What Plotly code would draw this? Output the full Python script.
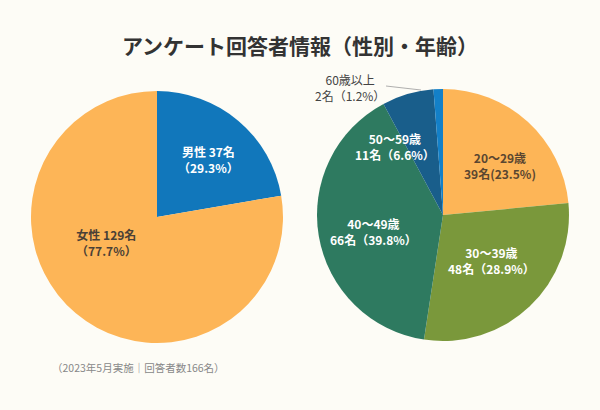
import plotly.graph_objects as go

# ---- data ----
gender_labels = ["男性", "女性"]
gender_counts = [37, 129]
gender_pct = ["29.3%", "77.7%"]

age_labels = ["20〜29歳", "30〜39歳", "40〜49歳", "50〜59歳", "60歳以上"]
age_counts = [39, 48, 66, 11, 2]
age_pct = ["23.5%", "28.9%", "39.8%", "6.6%", "1.2%"]

title_text = "アンケート回答者情報（性別・年齢）"
note_text = "（2023年5月実施｜回答者数166名）"

# ---- styles ----
W, H = 600, 410
FONT = "Noto Sans CJK JP"
BG = "#FDFCF6"
DARK = "#4A4036"
gender_colors = ["#1177BB", "#FDB557"]
gender_text_colors = ["white", DARK]
age_colors = ["#FDB557", "#7A983B", "#2E7A60", "#195E8B", "#1380C8"]
age_text_colors = ["#5A4630", "white", "white", "white", "#444444"]

# label block centres (pixels)
gender_label_pos = [(208, 159), (106, 242)]
age_label_pos = [(500, 165), (491, 260), (373, 232), (395, 146), (350, 88)]

gender_text = [f"{l} {c}名<br>（{p}）" for l, c, p in zip(gender_labels, gender_counts, gender_pct)]
age_text = []
for l, c, p in zip(age_labels, age_counts, age_pct):
    if l.startswith("20"):
        age_text.append(f"{l}<br>{c}名({p})")
    else:
        age_text.append(f"{l}<br>{c}名（{p}）")


def px(x, y):
    return x / W, 1 - y / H


fig = go.Figure()

fig.add_trace(go.Pie(
    labels=gender_labels, values=gender_counts,
    textinfo="none", hoverinfo="label+value",
    sort=False, direction="clockwise", rotation=0,
    marker=dict(colors=gender_colors, line=dict(width=0)),
    domain=dict(x=[31 / W, 283 / W], y=[1 - 343 / H, 1 - 91 / H]),
    showlegend=False,
))

fig.add_trace(go.Pie(
    labels=age_labels, values=age_counts,
    textinfo="none", hoverinfo="label+value",
    sort=False, direction="clockwise", rotation=0,
    marker=dict(colors=age_colors, line=dict(width=0)),
    domain=dict(x=[317 / W, 569 / W], y=[1 - 341 / H, 1 - 89 / H]),
    showlegend=False,
))

anns = []
for t, (x, y), col in zip(gender_text, gender_label_pos, gender_text_colors):
    ax_, ay_ = px(x, y)
    anns.append(dict(text=t, x=ax_, y=ay_, xref="paper", yref="paper", showarrow=False,
                     xanchor="center", yanchor="middle", align="center",
                     font=dict(family=FONT, size=12, color=col, weight="bold")))
for t, (x, y), col in zip(age_text, age_label_pos, age_text_colors):
    ax_, ay_ = px(x, y)
    w = "normal" if col == "#444444" else "bold"
    anns.append(dict(text=t, x=ax_, y=ay_, xref="paper", yref="paper", showarrow=False,
                     xanchor="center", yanchor="middle", align="center",
                     font=dict(family=FONT, size=12, color=col, weight=w)))

nx, ny = px(50, 367)
anns.append(dict(text=note_text, x=nx, y=ny, xref="paper", yref="paper",
                 xanchor="left", yanchor="middle", showarrow=False,
                 font=dict(family=FONT, size=10.5, color="#888888")))

x0, y0 = px(386, 86)
x1, y1 = px(421, 90)
fig.add_shape(type="line", xref="paper", yref="paper", x0=x0, y0=y0, x1=x1, y1=y1,
              line=dict(color="#9A9A9A", width=0.8))

tx, ty = px(300, 47)
fig.update_layout(
    width=W, height=H,
    margin=dict(l=0, r=0, t=0, b=0),
    paper_bgcolor=BG, plot_bgcolor=BG,
    title=dict(text=f"<b>{title_text}</b>", x=tx, xanchor="center", y=ty, yanchor="middle",
               font=dict(family=FONT, size=21, color="#333333")),
    annotations=anns,
)

fig.write_html("out.html", config={"displayModeBar": False},
               post_script="document.body.style.margin='0';document.body.style.background='#FDFCF6';")
